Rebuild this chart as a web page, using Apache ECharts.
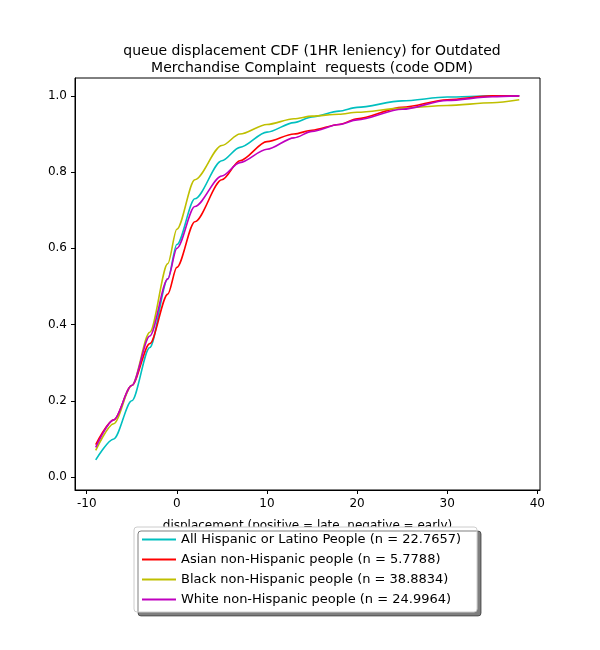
<!DOCTYPE html>
<html><head><meta charset="utf-8">
<script src="https://cdn.jsdelivr.net/npm/echarts@6/dist/echarts.min.js"></script>
<style>body{margin:0}#c{width:600px;height:650px}</style></head>
<body><div id="c"></div>
<script>
const xs = [-9,-7,-5,-3,-1,0,2,5,7,10,13,15,18,20,25,30,35,38];
const hispanic = [0.045,0.10,0.20,0.34,0.52,0.61,0.73,0.83,0.865,0.905,0.93,0.945,0.96,0.97,0.987,0.997,1.0,1.0];
const asian    = [0.085,0.15,0.24,0.35,0.48,0.55,0.67,0.78,0.83,0.88,0.9,0.91,0.925,0.94,0.97,0.99,1.0,1.0];
const black    = [0.07,0.14,0.24,0.38,0.56,0.65,0.78,0.87,0.9,0.925,0.94,0.947,0.952,0.957,0.968,0.975,0.982,0.99];
const white    = [0.078,0.15,0.24,0.37,0.52,0.6,0.71,0.79,0.825,0.86,0.89,0.907,0.925,0.937,0.965,0.988,0.998,1.0];
const xTicks = [-10,0,10,20,30,40];
const yTicks = [0,0.2,0.4,0.6,0.8,1.0];
const names = ['All Hispanic or Latino People (n = 22.7657)','Asian non-Hispanic people (n = 5.7788)','Black non-Hispanic people (n = 38.8834)','White non-Hispanic people (n = 24.9964)'];
const colors = ['#00bfbf','#ff0000','#bfbf00','#bf00bf'];
const sets = [hispanic,asian,black,white];
const chart = echarts.init(document.getElementById('c'));
chart.setOption({
  animation:false,
  title:{text:'queue displacement CDF (1HR leniency) for Outdated\nMerchandise Complaint  requests (code ODM)',left:307,top:38,textAlign:'center',
    textStyle:{fontFamily:'DejaVu Sans',fontSize:14,fontWeight:'normal',color:'#000',lineHeight:17}},
  grid:{left:75,top:78,width:465,height:412,show:true,borderColor:'#000',borderWidth:1,backgroundColor:'transparent'},
  xAxis:{type:'value',min:-11.3,max:40.3,name:'displacement (positive = late, negative = early)',nameLocation:'middle',nameGap:30,
    nameTextStyle:{fontFamily:'DejaVu Sans',fontSize:12,color:'#000'},
    axisLine:{onZero:false,lineStyle:{color:'#000'}},axisTick:{show:true,inside:false,length:4,customValues:xTicks,lineStyle:{color:'#000'}},splitLine:{show:false},
    axisLabel:{color:'#000',fontFamily:'DejaVu Sans',fontSize:12,customValues:xTicks}},
  yAxis:{type:'value',min:-0.034,max:1.047,splitLine:{show:false},position:'left',
    axisLine:{show:true,onZero:false,lineStyle:{color:'#000'}},axisTick:{show:true,inside:false,length:4,customValues:yTicks,lineStyle:{color:'#000'}},
    axisLabel:{color:'#000',fontFamily:'DejaVu Sans',fontSize:12,customValues:yTicks,formatter:v=>v.toFixed(1)}},
  legend:{orient:'vertical',left:134,top:527,itemWidth:34,itemHeight:2,itemGap:7,
    padding:[6,16,6,8],borderColor:'#ccc',borderWidth:1,borderRadius:3,backgroundColor:'#fff',
    shadowColor:'rgba(0,0,0,0.5)',shadowOffsetX:4,shadowOffsetY:4,shadowBlur:0,
    textStyle:{fontFamily:'DejaVu Sans',fontSize:13,color:'#000'},
    data:names.map(n=>({name:n,icon:'rect'}))},
  series:sets.map((s,i)=>({name:names[i],type:'line',smooth:0.3,smoothMonotone:'x',showSymbol:false,
    color:colors[i],lineStyle:{width:1.6,color:colors[i]},
    data:xs.map((x,j)=>[x,s[j]])}))
});
</script></body></html>
